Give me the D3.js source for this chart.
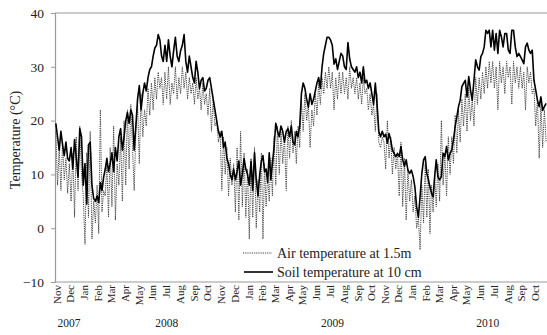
<!DOCTYPE html>
<html>
<head>
<meta charset="utf-8">
<script src="https://cdn.jsdelivr.net/npm/d3@7"></script>
<style>
  body { margin: 0; background: #fff; }
  svg { display: block; font-family: "Liberation Serif", "Times New Roman", serif; }
</style>
</head>
<body>
<svg id="chart" width="547" height="335"></svg>
<script>
// months on the axis, Nov 2007 .. Oct 2010
const monthLabels = ["Nov","Dec","Jan","Feb","Mar","Apr","May","Jun","Jul","Aug","Sep","Oct",
  "Nov","Dec","Jan","Feb","Mar","Apr","May","Jun","Jul","Aug","Sep","Oct",
  "Nov","Dec","Jan","Feb","Mar","Apr","May","Jun","Jul","Aug","Sep","Oct"];

const yearLabels = [
  { year: "2007", at: "2007-12-02" },
  { year: "2008", at: "2008-07-07" },
  { year: "2009", at: "2009-07-11" },
  { year: "2010", at: "2010-06-22" }
];

const yTicks = [-10, 0, 10, 20, 30, 40];

// 8 readings per month (roughly every 4 days)
const soilTemp = [
  19.5, 17, 14.5, 18, 15.5, 13.5, 16, 13,          // Nov 07
  12.5, 15, 11, 16.5, 13, 9.5, 18.5, 17,           // Dec
  8, 12, 4.5, 15.5, 16, 8, 5.5, 5,                 // Jan 08
  6, 4.8, 8.5, 7, 9.5, 11, 13, 10.5,               // Feb
  12, 14, 10.5, 15, 12.5, 17, 18.5, 14.5,          // Mar
  17, 20, 21.5, 19.5, 22, 21, 14.5, 19,            // Apr
  24, 26.5, 22, 25, 27, 25.5, 28, 29.5,            // May
  30, 32, 33.5, 34, 36, 35, 32, 31,                // Jun
  34, 31, 35, 32, 30, 33, 35.5, 32,                // Jul
  31, 33, 34, 36, 31, 29, 32, 30,                  // Aug
  28, 27, 31, 29, 26, 27.5, 28, 25.5,              // Sep
  26, 27.5, 28, 26, 24, 22, 20, 18,                // Oct
  17, 18, 15, 16, 13, 12, 10, 9,                   // Nov 08
  11, 9, 10.5, 12.5, 8, 10, 13, 11,                // Dec
  10, 8, 12.5, 7, 14, 9, 6, 10,                    // Jan 09
  12.5, 13.5, 10.5, 11, 8.5, 14, 9, 12,            // Feb
  15, 19.5, 18, 17, 19, 18, 16, 18,                // Mar
  18.5, 17, 19, 16, 15.5, 18, 17, 19,              // Apr
  25, 27, 26, 24, 22.5, 25, 23, 24,                // May
  25.5, 27, 28, 26, 30, 32.5, 34, 35.5,            // Jun
  35.5, 35, 34, 30.5, 31.5, 29.5, 31, 32.5,        // Jul
  32, 30, 29.5, 34.5, 31.5, 30, 29.5, 29,          // Aug
  30, 28, 29, 27, 30, 27, 27.5, 26,                // Sep
  27, 25, 23, 27, 23, 18, 17, 18,                  // Oct
  17, 17.5, 15.8, 17.6, 16.4, 14.5, 13.9, 13.3,    // Nov 09
  13.9, 13.3, 15.2, 12.7, 11.5, 12.7, 10.8, 10.2,  // Dec
  10.8, 9.6, 7.7, 4, 2, 5.9, 10.2, 12.7,           // Jan 10
  13.3, 10.2, 9, 7.7, 6.5, 5.8, 9.6, 12.7,         // Feb
  9.6, 9, 9.6, 13.9, 13.3, 15.2, 12.7, 13.9,       // Mar
  14.5, 16.4, 18.9, 20.7, 22.6, 23.8, 26.3, 26.9,  // Apr
  27.5, 24.4, 28.2, 25.7, 23.8, 27.5, 31.3, 30,    // May
  29.4, 31.9, 32.5, 33.7, 36.8, 36.2, 36.8, 33.7,  // Jun
  36.8, 33.1, 36.2, 32.5, 36.8, 35.6, 33.7, 36.2,  // Jul
  36.2, 33.1, 32.5, 36.8, 36.8, 33.7, 31.9, 32.5,  // Aug
  31.9, 31.3, 30.6, 33.7, 34.4, 33.1, 32.5, 33.1,  // Sep
  27.5, 25.7, 23.8, 22.6, 24.4, 21.9, 22.6, 23.2   // Oct
];

const airTemp = [
  18, 8, 15, 7, 16, 9, 13, 6.5,      // Nov 07
  12, 5, 14, 2, 17, 7, 19, 10,       // Dec
  6, -3, 14, 2, 18, -2, 5, 1,        // Jan 08
  8, -1, 22, 3, 7, 6, 12, 2,         // Feb
  15, 4, 19, 1.5, 12, 8, 17, 5,      // Mar
  20, 8, 22, 11, 23, 15, 7, 18,      // Apr
  23, 12, 25, 17, 22, 19, 26, 21,    // May
  27, 22, 28, 24, 29, 26, 28, 23,    // Jun
  29, 24, 30, 23, 27, 25, 30, 24,    // Jul
  28, 25, 30, 26, 29, 24, 28, 25,    // Aug
  27, 23, 28, 24, 26, 22, 27, 23,    // Sep
  25, 21, 26, 18, 24, 19, 20, 16,    // Oct
  18, 7, 17, 10, 15, 6, 13, 8,       // Nov 08
  12, 3, 15, 1.5, 18, 4, 14, 2,      // Dec
  11, -2, 13, 2, 15, 0, 9, 3,        // Jan 09
  14, -2, 12, 4, 10, 5, 13, 6,       // Feb
  17, 8, 19, 10, 18, 12, 17, 7,      // Mar
  19, 13, 20, 14, 18, 12, 19, 15,    // Apr
  24, 18, 25, 20, 23, 15, 22, 19,    // May
  25, 21, 27, 23, 28, 25, 29, 26,    // Jun
  30, 26, 29, 22, 28, 24, 29, 25,    // Jul
  29, 25, 28, 24, 30, 26, 28, 25,    // Aug
  28, 24, 27, 23, 28, 25, 26, 22,    // Sep
  25, 21, 23, 18, 25, 16, 15, 17,    // Oct
  16, 11, 20, 13, 17, 10, 15, 11,    // Nov 09
  14, 6, 16, 4, 13, 1.5, 11, 5,      // Dec
  9, 3, 6, 0, 2, -4, 8, 1,           // Jan 10
  12, 2, 11, -1, 8, 3, 10, 4,        // Feb
  12, 5, 20, 8, 14, 6, 17, 10,       // Mar
  17, 12, 21, 14, 22, 16, 24, 19,    // Apr
  25, 18, 26, 20, 24, 19, 28, 23,    // May
  28, 24, 29, 25, 30, 26, 31, 27,    // Jun
  31, 26, 30, 22, 31, 27, 30, 25,    // Jul
  31, 28, 30, 23, 31, 27, 30, 26,    // Aug
  30, 26, 29, 22, 30, 27, 29, 25,    // Sep
  26, 19, 24, 13, 23, 15, 22, 16     // Oct
];

const perMonth = 8;
const start = new Date(2007, 10, 1);
const end = new Date(2010, 10, 1);

// date of the i-th reading: spread evenly inside its month
function sampleDate(i) {
  const m = Math.floor(i / perMonth);
  const m0 = d3.timeMonth.offset(start, m);
  const m1 = d3.timeMonth.offset(start, m + 1);
  return new Date(+m0 + (m1 - m0) * ((i % perMonth) + 0.5) / perMonth);
}

const margin = { left: 55, right: 547, top: 13, bottom: 282 };
const svg = d3.select("#chart");

const x = d3.scaleTime().domain([start, end]).range([margin.left, margin.right]);
const y = d3.scaleLinear().domain([-10, 40]).range([margin.bottom, margin.top]);

const axisColor = "#9a9a9a";

// frame: top line + bottom line
svg.append("line")
  .attr("x1", margin.left).attr("x2", margin.right)
  .attr("y1", y(40)).attr("y2", y(40))
  .attr("stroke", axisColor).attr("stroke-width", 1.2);
svg.append("line")
  .attr("x1", margin.left).attr("x2", margin.right)
  .attr("y1", y(-10)).attr("y2", y(-10))
  .attr("stroke", axisColor).attr("stroke-width", 1.2);

// y axis
const yAxis = svg.append("g")
  .attr("transform", `translate(${margin.left},0)`)
  .call(d3.axisLeft(y).tickValues(yTicks).tickSize(4).tickPadding(7).tickFormat(d3.format("d")));
yAxis.select(".domain").attr("stroke", axisColor).attr("stroke-width", 1.2);
yAxis.selectAll(".tick line").attr("stroke", axisColor);
yAxis.selectAll(".tick text")
  .attr("font-family", "Liberation Serif, Times New Roman, serif")
  .attr("font-size", 13.5).attr("fill", "#222");

svg.append("text")
  .attr("transform", "translate(20,140) rotate(-90)")
  .attr("text-anchor", "middle")
  .attr("font-size", 14)
  .attr("fill", "#222")
  .text("Temperature (°C)");

// month labels, rotated
svg.append("g")
  .selectAll("text")
  .data(monthLabels)
  .join("text")
    .attr("transform", (d, i) => `translate(${x(d3.timeMonth.offset(start, i)) + 2},285) rotate(-90)`)
    .attr("text-anchor", "end")
    .attr("dy", "0.35em")
    .attr("font-size", 11)
    .attr("fill", "#222")
    .text(d => d);

svg.append("g")
  .selectAll("text")
  .data(yearLabels)
  .join("text")
    .attr("x", d => x(d3.timeParse("%Y-%m-%d")(d.at)))
    .attr("y", 327)
    .attr("text-anchor", "middle")
    .attr("font-size", 11.5)
    .attr("fill", "#222")
    .text(d => d.year);

// series
const line = d3.line()
  .x((d, i) => x(sampleDate(i)))
  .y(d => y(d));

svg.append("path")
  .datum(airTemp)
  .attr("fill", "none")
  .attr("stroke", "#444")
  .attr("stroke-width", 1)
  .attr("stroke-dasharray", "1.2,1")
  .attr("d", line);

svg.append("path")
  .datum(soilTemp)
  .attr("fill", "none")
  .attr("stroke", "#000")
  .attr("stroke-width", 1.6)
  .attr("stroke-linejoin", "round")
  .attr("d", line);

// legend
const legend = svg.append("g").attr("font-size", 14).attr("fill", "#222");
legend.append("line")
  .attr("x1", 243).attr("x2", 272).attr("y1", 253).attr("y2", 253)
  .attr("stroke", "#444").attr("stroke-dasharray", "1.2,1");
legend.append("text").attr("x", 277).attr("y", 257.5).text("Air temperature at 1.5m");
legend.append("line")
  .attr("x1", 244).attr("x2", 273).attr("y1", 272).attr("y2", 272)
  .attr("stroke", "#000").attr("stroke-width", 1.6);
legend.append("text").attr("x", 277).attr("y", 276.5).text("Soil temperature at 10 cm");
</script>
</body>
</html>
